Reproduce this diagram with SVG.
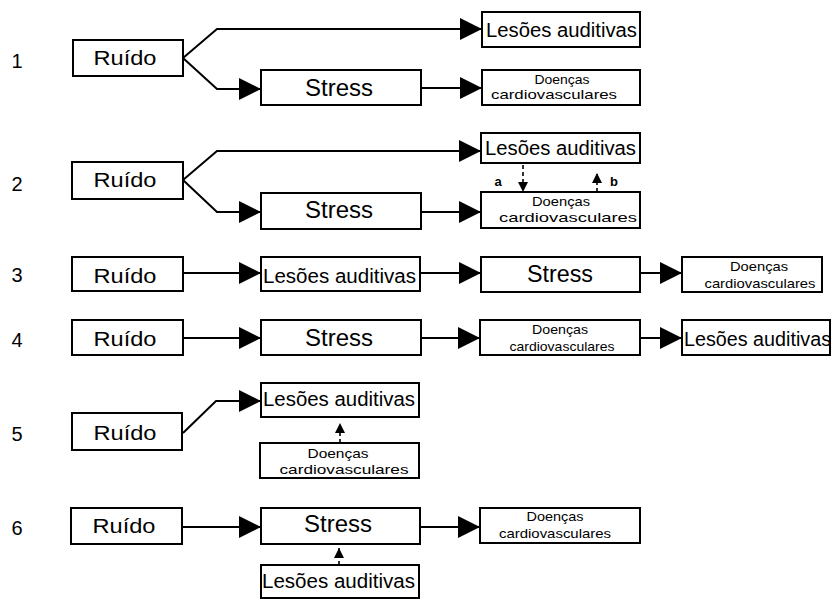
<svg xmlns="http://www.w3.org/2000/svg" width="833" height="601" viewBox="0 0 833 601">
<defs>
<marker id="ah" markerUnits="userSpaceOnUse" viewBox="0 0 22 22" markerWidth="22" markerHeight="22" refX="22" refY="11" orient="auto"><path d="M0,0 L22,11 L0,22 z" fill="#000"/></marker>
<marker id="sh" markerUnits="userSpaceOnUse" viewBox="0 0 10 10" markerWidth="10" markerHeight="10" refX="10" refY="5" orient="auto"><path d="M0,0 L10,5 L0,10 z" fill="#000"/></marker>
<style>
rect{fill:#fff;stroke:#000;stroke-width:2}
text{font-family:"Liberation Sans",Arial,sans-serif;fill:#000}
.b{font-size:21px;text-anchor:middle}
.s{font-size:23px;text-anchor:middle}
.l{font-size:20px}
.d{font-size:13px;text-anchor:middle}
.n{font-size:20px;text-anchor:middle}
.ab{font-size:13px;font-weight:bold;text-anchor:middle}
.c{fill:none;stroke:#000;stroke-width:2;marker-end:url(#ah)}
.k{fill:none;stroke:#000;stroke-width:1.6;stroke-dasharray:4 3;marker-end:url(#sh)}
</style>
</defs>
<g id="labels">
<text class="n" x="17" y="68">1</text>
<text class="n" x="17" y="191">2</text>
<text class="n" x="17" y="282">3</text>
<text class="n" x="17" y="347">4</text>
<text class="n" x="17" y="441">5</text>
<text class="n" x="17" y="535">6</text>
</g>
<g id="connectors">
<path class="c" d="M183,58 L217,29 L482,29"/>
<path class="c" d="M183,58 L217,89 L261,89"/>
<path class="c" d="M421,88 L482,88"/>
<path class="c" d="M183,180 L217,151 L481,151"/>
<path class="c" d="M183,180 L217,212 L261,212"/>
<path class="c" d="M421,212 L481,212"/>
<path class="k" d="M523,165 L523,192"/>
<path class="k" d="M597,192 L597,173"/>
<path class="c" d="M183,273 L261,273"/>
<path class="c" d="M420,273 L481,273"/>
<path class="c" d="M640,273 L682,273"/>
<path class="c" d="M183,338 L261,338"/>
<path class="c" d="M421,338 L480,338"/>
<path class="c" d="M640,338 L682,338"/>
<path class="c" d="M183,433 L216,401 L261,401"/>
<path class="k" d="M340,443 L340,423"/>
<path class="c" d="M183,527 L261,527"/>
<path class="c" d="M420,527 L480,527"/>
<path class="k" d="M339,565 L339,548"/>
</g>
<g id="ab-labels">
<text class="ab" x="498" y="186">a</text>
<text class="ab" x="614" y="186">b</text>
</g>
<g id="r1-ruido"><rect x="73" y="40" width="110" height="36"/><text class="b" x="125" y="65" textLength="63" lengthAdjust="spacingAndGlyphs">Ruído</text></g>
<g id="r1-lesoes"><rect x="482" y="12" width="158" height="35"/><text class="l" x="486" y="37" textLength="151" lengthAdjust="spacingAndGlyphs">Lesões auditivas</text></g>
<g id="r1-stress"><rect x="261" y="70" width="160" height="35"/><text class="s" x="339" y="96" textLength="68" lengthAdjust="spacingAndGlyphs">Stress</text></g>
<g id="r1-doencas"><rect x="482" y="70" width="158" height="35"/><text class="d" x="562" y="84" textLength="55" lengthAdjust="spacingAndGlyphs">Doenças</text><text class="d" x="554" y="99" textLength="126" lengthAdjust="spacingAndGlyphs">cardiovasculares</text></g>
<g id="r2-ruido"><rect x="72" y="162" width="111" height="37"/><text class="b" x="125" y="187" textLength="63" lengthAdjust="spacingAndGlyphs">Ruído</text></g>
<g id="r2-lesoes"><rect x="481" y="133" width="159" height="30"/><text class="l" x="485" y="155" textLength="151" lengthAdjust="spacingAndGlyphs">Lesões auditivas</text></g>
<g id="r2-stress"><rect x="261" y="193" width="160" height="36"/><text class="s" x="339" y="218" textLength="68" lengthAdjust="spacingAndGlyphs">Stress</text></g>
<g id="r2-doencas"><rect x="481" y="192" width="159" height="36"/><text class="d" x="561" y="206" textLength="58" lengthAdjust="spacingAndGlyphs">Doenças</text><text class="d" x="568" y="222" textLength="138" lengthAdjust="spacingAndGlyphs">cardiovasculares</text></g>
<g id="r3-ruido"><rect x="72" y="257" width="111" height="34"/><text class="b" x="125" y="283" textLength="63" lengthAdjust="spacingAndGlyphs">Ruído</text></g>
<g id="r3-lesoes"><rect x="261" y="257" width="159" height="34"/><text class="l" x="263" y="283" textLength="153" lengthAdjust="spacingAndGlyphs">Lesões auditivas</text></g>
<g id="r3-stress"><rect x="481" y="257" width="159" height="35"/><text class="s" x="560" y="282" textLength="66" lengthAdjust="spacingAndGlyphs">Stress</text></g>
<g id="r3-doencas"><rect x="682" y="257" width="140" height="35"/><text class="d" x="759" y="271" textLength="58" lengthAdjust="spacingAndGlyphs">Doenças</text><text class="d" x="760" y="288" textLength="111" lengthAdjust="spacingAndGlyphs">cardiovasculares</text></g>
<g id="r4-ruido"><rect x="72" y="320" width="111" height="35"/><text class="b" x="125" y="346" textLength="63" lengthAdjust="spacingAndGlyphs">Ruído</text></g>
<g id="r4-stress"><rect x="261" y="320" width="160" height="35"/><text class="s" x="339" y="346" textLength="68" lengthAdjust="spacingAndGlyphs">Stress</text></g>
<g id="r4-doencas"><rect x="480" y="320" width="160" height="35"/><text class="d" x="560" y="334" textLength="56" lengthAdjust="spacingAndGlyphs">Doenças</text><text class="d" x="562" y="351" textLength="105" lengthAdjust="spacingAndGlyphs">cardiovasculares</text></g>
<g id="r4-lesoes"><rect x="682" y="320" width="148" height="35"/><text class="l" x="684" y="346" textLength="147" lengthAdjust="spacingAndGlyphs">Lesões auditivas</text></g>
<g id="r5-ruido"><rect x="72" y="413" width="110" height="37"/><text class="b" x="125" y="440" textLength="63" lengthAdjust="spacingAndGlyphs">Ruído</text></g>
<g id="r5-lesoes"><rect x="261" y="383" width="158" height="34"/><text class="l" x="263" y="406" textLength="152" lengthAdjust="spacingAndGlyphs">Lesões auditivas</text></g>
<g id="r5-doencas"><rect x="260" y="443" width="159" height="35"/><text class="d" x="338" y="458" textLength="61" lengthAdjust="spacingAndGlyphs">Doenças</text><text class="d" x="344" y="474" textLength="129" lengthAdjust="spacingAndGlyphs">cardiovasculares</text></g>
<g id="r6-ruido"><rect x="71" y="508" width="111" height="36"/><text class="b" x="124" y="533" textLength="63" lengthAdjust="spacingAndGlyphs">Ruído</text></g>
<g id="r6-stress"><rect x="261" y="508" width="159" height="36"/><text class="s" x="338" y="532" textLength="68" lengthAdjust="spacingAndGlyphs">Stress</text></g>
<g id="r6-doencas"><rect x="480" y="508" width="160" height="35"/><text class="d" x="555" y="521" textLength="57" lengthAdjust="spacingAndGlyphs">Doenças</text><text class="d" x="555" y="538" textLength="112" lengthAdjust="spacingAndGlyphs">cardiovasculares</text></g>
<g id="r6-lesoes"><rect x="261" y="565" width="158" height="33"/><text class="l" x="262" y="588" textLength="153" lengthAdjust="spacingAndGlyphs">Lesões auditivas</text></g>
</svg>
